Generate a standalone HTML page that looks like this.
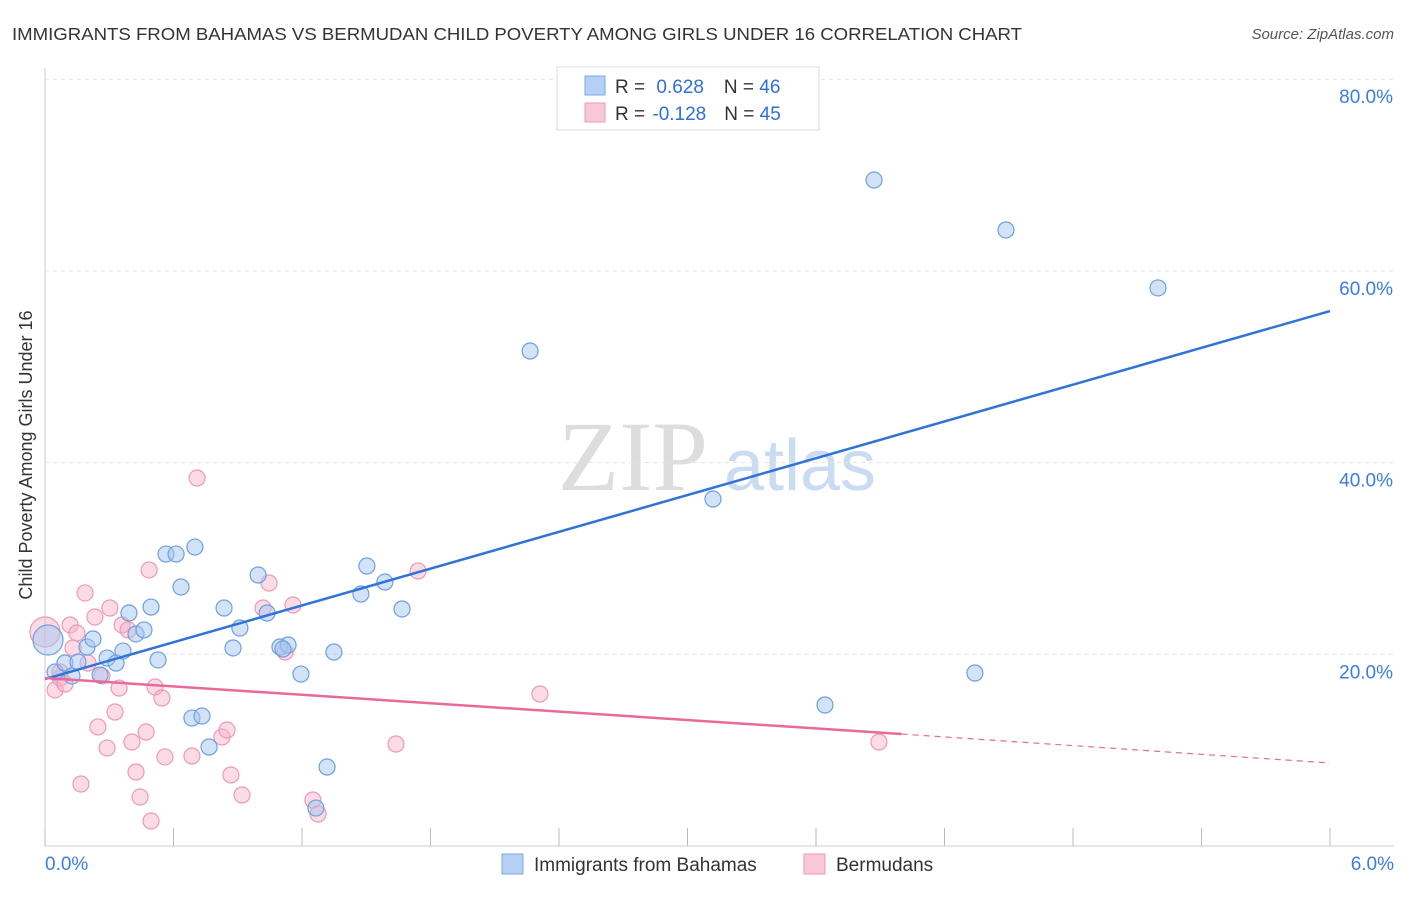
<!DOCTYPE html>
<html><head><meta charset="utf-8"><style>
body{margin:0;background:#fff;font-family:"Liberation Sans",sans-serif;}
</style></head><body>
<svg id="chart" width="1406" height="892" viewBox="0 0 1406 892" font-family="Liberation Sans, sans-serif">
<text x="12" y="40" font-size="17.5" fill="#333" textLength="1010" lengthAdjust="spacingAndGlyphs">IMMIGRANTS FROM BAHAMAS VS BERMUDAN CHILD POVERTY AMONG GIRLS UNDER 16 CORRELATION CHART</text>
<text x="1394" y="39" font-size="15" fill="#555" text-anchor="end" font-style="italic">Source: ZipAtlas.com</text>
<text x="633" y="490" font-size="100" fill="#ddd" style="font-family:'Liberation Serif',serif" text-anchor="middle">ZIP</text>
<text x="800" y="490" font-size="72" fill="#c9dcf2" text-anchor="middle">atlas</text>
<text transform="translate(32,455) rotate(-90)" font-size="18" fill="#333" text-anchor="middle">Child Poverty Among Girls Under 16</text>
<g id="grid"></g><g id="marks"></g><g id="lines"></g>
<g>
<rect x="557" y="67" width="262" height="63" fill="#fff" stroke="#ddd"/>
<rect x="585" y="76" width="20" height="19" fill="#b5d0f3" stroke="#7aa8e3"/>
<rect x="585" y="103" width="20" height="19" fill="#f8c8d8" stroke="#ec9ab6"/>
<text x="615" y="93" font-size="19" fill="#333">R = <tspan fill="#2f6fd6" dx="6">0.628</tspan><tspan dx="20" fill="#333">N = </tspan><tspan fill="#2f6fd6">46</tspan></text>
<text x="615" y="120" font-size="19" fill="#333">R = <tspan fill="#2f6fd6" dx="2">-0.128</tspan><tspan dx="18" fill="#333">N = </tspan><tspan fill="#2f6fd6">45</tspan></text>
</g>
<g>
<rect x="502" y="854" width="21" height="20" fill="#b5d0f3" stroke="#7aa8e3"/>
<text x="534" y="871" font-size="19" fill="#333">Immigrants from Bahamas</text>
<rect x="804" y="854" width="21" height="20" fill="#f8c8d8" stroke="#ec9ab6"/>
<text x="836" y="871" font-size="19" fill="#333">Bermudans</text>
</g>
</svg>
<script>
const yTicks=[20,40,60,80];
const xTickLabels=["0.0%","6.0%"];
const blueX=[.014,.047,.093,.126,.154,.196,.224,.257,.290,.332,.364,.392,.425,.462,.495,.528,.565,.612,.635,.686,.700,.733,.766,.836,.878,.910,.995,1.037,1.097,1.135,1.111,1.195,1.317,1.349,1.265,1.475,1.503,1.587,1.667,2.265,3.119,3.642,3.871,4.342,4.487,5.197];
const blueY=[21.49,18.15,19.09,17.74,19.20,20.76,21.60,17.84,19.61,19.09,20.34,24.31,22.12,22.54,24.93,19.41,30.46,30.46,27.02,13.35,31.19,13.56,10.33,24.83,20.66,22.74,28.27,24.31,20.76,20.97,20.55,17.94,8.24,20.24,3.96,26.29,29.21,27.54,24.73,51.64,36.20,14.71,69.48,18.05,64.27,58.22];
const pinkX=[0,.047,.070,.093,.117,.149,.131,.168,.187,.201,.233,.247,.266,.290,.303,.327,.346,.360,.388,.406,.425,.444,.472,.486,.495,.514,.546,.560,.686,.710,.826,.850,.868,.920,1.018,1.046,1.121,1.158,1.251,1.275,1.639,1.742,2.311,3.894,.070];
const pinkY=[22.33,16.28,17.53,16.90,23.06,22.22,20.66,6.47,26.40,19.09,23.89,12.42,17.74,10.22,24.83,13.98,16.48,23.06,22.54,10.85,7.72,5.11,11.89,28.80,2.61,16.59,15.44,9.29,9.39,38.39,11.37,12.10,7.41,5.32,24.83,27.44,20.24,25.14,4.80,3.34,10.64,28.69,15.86,10.85,18.15];
const blueTrend=[[0,17.42],[6,55.81]];
const pinkTrend=[[0,17.53],[4.0,11.68]];
const pinkTrendDash=[[4.0,11.68],[6,8.66]];
const NS="http://www.w3.org/2000/svg";
const X=v=>45+v/6*1285, Y=v=>846-v/20*191.7;
function mk(t,a,p){const e=document.createElementNS(NS,t);for(const k in a)e.setAttribute(k,a[k]);p.appendChild(e);return e;}
const g=document.getElementById('grid'),m=document.getElementById('marks'),l=document.getElementById('lines');
yTicks.forEach(t=>{const ln=mk('line',{x1:45,x2:1394,y1:Y(t),y2:Y(t),stroke:'#e3e3e3','stroke-dasharray':'4,4'},g);


const tx=mk('text',{x:1393,y:Y(t)+24,'font-size':19,fill:'#3b7ddd','text-anchor':'end'},g);tx.textContent=t.toFixed(1)+'%';

});
const ax=mk('line',{x1:45,x2:1394,y1:846,y2:846,stroke:'#ccc'},g);


const ay=mk('line',{x1:45,x2:45,y1:68,y2:846,stroke:'#ccc'},g);


for(let i=0;i<=10;i++){const tk=mk('line',{x1:X(i*0.6),x2:X(i*0.6),y1:828,y2:846,stroke:'#bbb'},g);

}
[[0,'start',45],[1,'end',1394]].forEach(([i,a,x])=>{const t=mk('text',{x:x,y:870,'font-size':19,fill:'#3b7ddd','text-anchor':a},g);t.textContent=xTickLabels[i];

});
function dots(xs,ys,fill,stroke,name){xs.forEach((x,i)=>{const r=(i===0)?15:8;const c=mk('circle',{cx:X(x),cy:Y(ys[i]),r:r,fill:fill,stroke:stroke,'stroke-width':1.2},m);

});}
dots(pinkX,pinkY,'rgba(246,175,200,0.45)','#ec9ab6','point-bermudans');
dots(blueX,blueY,'rgba(165,198,240,0.5)','#6f9fdf','point-bahamas');
function seg(p,st,w,d,name){const ln=mk('line',{x1:X(p[0][0]),y1:Y(p[0][1]),x2:X(p[1][0]),y2:Y(p[1][1]),stroke:st,'stroke-width':w},l);if(d)ln.setAttribute('stroke-dasharray',d);

}
seg(blueTrend,'#2f74d8',2.5,null,'trend-line-bahamas');
seg(pinkTrend,'#e8699a',2.5,null,'trend-line-bermudans');
seg(pinkTrendDash,'#e8699a',1.2,'6,5','trend-line-bermudans-extrapolated');
</script>
</body></html>
